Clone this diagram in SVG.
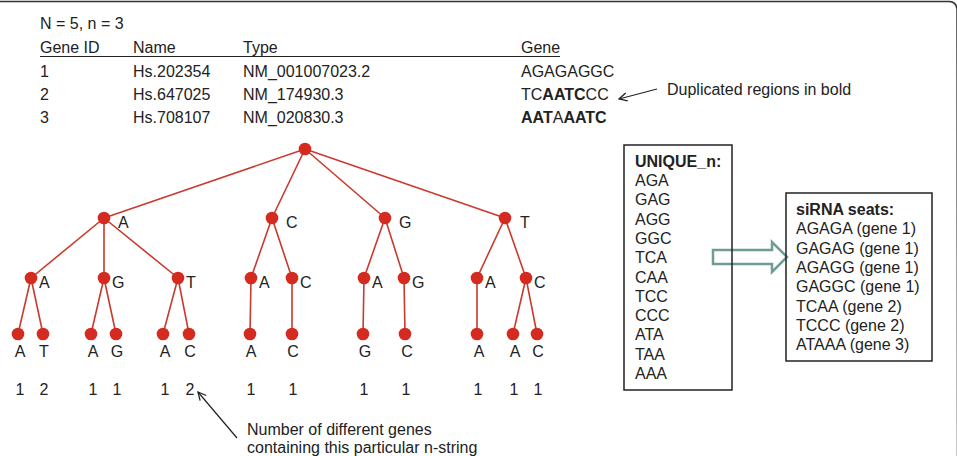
<svg xmlns="http://www.w3.org/2000/svg" width="957" height="456" viewBox="0 0 957 456">
<defs>
<style>
text{font-family:"Liberation Sans",Arial,sans-serif;font-size:16px;fill:#222}
.tl{font-size:16px}
.b{font-weight:bold}
.e{stroke:#c93a2c;stroke-width:1.6;fill:none}
.n{fill:#d42a1f}
.ann{stroke:#222;stroke-width:1.2;fill:none}
.box{fill:none;stroke:#222;stroke-width:1.5}
</style>
<marker id="va" viewBox="0 0 10 10" refX="9" refY="5" markerWidth="10" markerHeight="10" markerUnits="userSpaceOnUse" orient="auto">
<path d="M1,1 L9,5 L1,9" fill="none" stroke="#222" stroke-width="1.3"/>
</marker>
</defs>
<rect width="957" height="456" fill="#fff"/>
<path d="M-2,1.5 L949,1.5 Q956,1.5 957,9 L957.5,460" fill="none" stroke="#333" stroke-width="1.5"/>

<g id="table">
<text x="40" y="29">N = 5, n = 3</text>
<text x="40" y="53">Gene ID</text>
<text x="133" y="53">Name</text>
<text x="243" y="53">Type</text>
<text x="521" y="53">Gene</text>
<line x1="40" y1="56.5" x2="560" y2="56.5" stroke="#222" stroke-width="1"/>
<text x="40" y="77">1</text>
<text x="133" y="77">Hs.202354</text>
<text x="243" y="77">NM_001007023.2</text>
<text x="521" y="77">AGAGAGGC</text>
<text x="40" y="100">2</text>
<text x="133" y="100">Hs.647025</text>
<text x="243" y="100">NM_174930.3</text>
<text x="521" y="100">TC<tspan class="b">AATC</tspan>CC</text>
<text x="40" y="123">3</text>
<text x="133" y="123">Hs.708107</text>
<text x="243" y="123">NM_020830.3</text>
<text x="521" y="123"><tspan class="b">AAT</tspan>A<tspan class="b">AATC</tspan></text>
</g>

<g id="note-duplicated">
<text x="667" y="95">Duplicated regions in bold</text>
</g>
<g id="note-number">
<text x="247" y="435">Number of different genes</text>
<text x="247" y="453">containing this particular n-string</text>
</g>

<g id="connectors">
<line class="ann" x1="657" y1="89" x2="619" y2="99" marker-end="url(#va)"/>
<line class="ann" x1="237" y1="438" x2="198" y2="392" marker-end="url(#va)"/>
<path class="e" d="M305,149 L104,218 M305,149 L272,218 M305,149 L385,218 M305,149 L505,218
M104,218 L31,278 M104,218 L104,278 M104,218 L178,278
M272,218 L251,278 M272,218 L292,278
M385,218 L364,278 M385,218 L404,278
M505,218 L477,278 M505,218 L526,278
M31,278 L18,334 M31,278 L43,334
M104,278 L91,334 M104,278 L116,334
M178,278 L163,334 M178,278 L189,334
M251,278 L250,334 M292,278 L292,334
M364,278 L363,334 M404,278 L405,334
M477,278 L477,334
M526,278 L513,334 M526,278 L537,334"/>
<path d="M713,250 L772,250 L772,242 L787,257 L772,272 L772,264 L713,264 Z" fill="none" stroke="#6f9c94" stroke-width="2.5" stroke-linejoin="miter"/>
</g>

<g id="root"><circle class="n" cx="305" cy="149" r="6.3"/></g>

<g id="n-A"><circle class="n" cx="104" cy="218" r="6.3"/><text class="tl" x="118" y="228">A</text></g>
<g id="n-C"><circle class="n" cx="272" cy="218" r="6.3"/><text class="tl" x="286" y="228">C</text></g>
<g id="n-G"><circle class="n" cx="385" cy="218" r="6.3"/><text class="tl" x="399" y="228">G</text></g>
<g id="n-T"><circle class="n" cx="505" cy="218" r="6.3"/><text class="tl" x="520" y="228">T</text></g>

<g id="n-AA"><circle class="n" cx="31" cy="278" r="6.3"/><text class="tl" x="39" y="288">A</text></g>
<g id="n-AG"><circle class="n" cx="104" cy="278" r="6.3"/><text class="tl" x="112" y="288">G</text></g>
<g id="n-AT"><circle class="n" cx="178" cy="278" r="6.3"/><text class="tl" x="186" y="288">T</text></g>
<g id="n-CA"><circle class="n" cx="251" cy="278" r="6.3"/><text class="tl" x="259" y="288">A</text></g>
<g id="n-CC"><circle class="n" cx="292" cy="278" r="6.3"/><text class="tl" x="300" y="288">C</text></g>
<g id="n-GA"><circle class="n" cx="364" cy="278" r="6.3"/><text class="tl" x="372" y="288">A</text></g>
<g id="n-GG"><circle class="n" cx="404" cy="278" r="6.3"/><text class="tl" x="412" y="288">G</text></g>
<g id="n-TA"><circle class="n" cx="477" cy="278" r="6.3"/><text class="tl" x="485" y="288">A</text></g>
<g id="n-TC"><circle class="n" cx="526" cy="278" r="6.3"/><text class="tl" x="534" y="288">C</text></g>

<g id="n-AAA"><circle class="n" cx="18" cy="334" r="6.3"/><text class="tl" x="20" y="357" text-anchor="middle">A</text><text class="tl" x="20" y="395" text-anchor="middle">1</text></g>
<g id="n-AAT"><circle class="n" cx="43" cy="334" r="6.3"/><text class="tl" x="44" y="357" text-anchor="middle">T</text><text class="tl" x="44" y="395" text-anchor="middle">2</text></g>
<g id="n-AGA"><circle class="n" cx="91" cy="334" r="6.3"/><text class="tl" x="93" y="357" text-anchor="middle">A</text><text class="tl" x="93" y="395" text-anchor="middle">1</text></g>
<g id="n-AGG"><circle class="n" cx="116" cy="334" r="6.3"/><text class="tl" x="117" y="357" text-anchor="middle">G</text><text class="tl" x="117" y="395" text-anchor="middle">1</text></g>
<g id="n-ATA"><circle class="n" cx="163" cy="334" r="6.3"/><text class="tl" x="165" y="357" text-anchor="middle">A</text><text class="tl" x="165" y="395" text-anchor="middle">1</text></g>
<g id="n-ATC"><circle class="n" cx="189" cy="334" r="6.3"/><text class="tl" x="190" y="357" text-anchor="middle">C</text><text class="tl" x="190" y="395" text-anchor="middle">2</text></g>
<g id="n-CAA"><circle class="n" cx="250" cy="334" r="6.3"/><text class="tl" x="251" y="357" text-anchor="middle">A</text><text class="tl" x="251" y="395" text-anchor="middle">1</text></g>
<g id="n-CCC"><circle class="n" cx="292" cy="334" r="6.3"/><text class="tl" x="293" y="357" text-anchor="middle">C</text><text class="tl" x="293" y="395" text-anchor="middle">1</text></g>
<g id="n-GAG"><circle class="n" cx="363" cy="334" r="6.3"/><text class="tl" x="365" y="357" text-anchor="middle">G</text><text class="tl" x="364" y="395" text-anchor="middle">1</text></g>
<g id="n-GGC"><circle class="n" cx="405" cy="334" r="6.3"/><text class="tl" x="407" y="357" text-anchor="middle">C</text><text class="tl" x="406" y="395" text-anchor="middle">1</text></g>
<g id="n-TAA"><circle class="n" cx="477" cy="334" r="6.3"/><text class="tl" x="479" y="357" text-anchor="middle">A</text><text class="tl" x="478" y="395" text-anchor="middle">1</text></g>
<g id="n-TCA"><circle class="n" cx="513" cy="334" r="6.3"/><text class="tl" x="515" y="357" text-anchor="middle">A</text><text class="tl" x="514" y="395" text-anchor="middle">1</text></g>
<g id="n-TCC"><circle class="n" cx="537" cy="334" r="6.3"/><text class="tl" x="538" y="357" text-anchor="middle">C</text><text class="tl" x="538" y="395" text-anchor="middle">1</text></g>

<g id="unique-box">
<rect class="box" x="624" y="145" width="108" height="245"/>
<text class="b" x="635" y="167">UNIQUE_n:</text>
<text x="635" y="186">AGA</text>
<text x="635" y="205.3">GAG</text>
<text x="635" y="224.6">AGG</text>
<text x="635" y="243.9">GGC</text>
<text x="635" y="263.2">TCA</text>
<text x="635" y="282.5">CAA</text>
<text x="635" y="301.8">TCC</text>
<text x="635" y="321.1">CCC</text>
<text x="635" y="340.4">ATA</text>
<text x="635" y="359.7">TAA</text>
<text x="635" y="379">AAA</text>
</g>

<g id="sirna-box">
<rect class="box" x="786" y="193" width="146" height="168"/>
<text class="b" x="796" y="215">siRNA seats:</text>
<text x="796" y="234.3">AGAGA (gene 1)</text>
<text x="796" y="253.6">GAGAG (gene 1)</text>
<text x="796" y="272.9">AGAGG (gene 1)</text>
<text x="796" y="292.2">GAGGC (gene 1)</text>
<text x="796" y="311.5">TCAA (gene 2)</text>
<text x="796" y="330.8">TCCC (gene 2)</text>
<text x="796" y="350">ATAAA (gene 3)</text>
</g>
</svg>
